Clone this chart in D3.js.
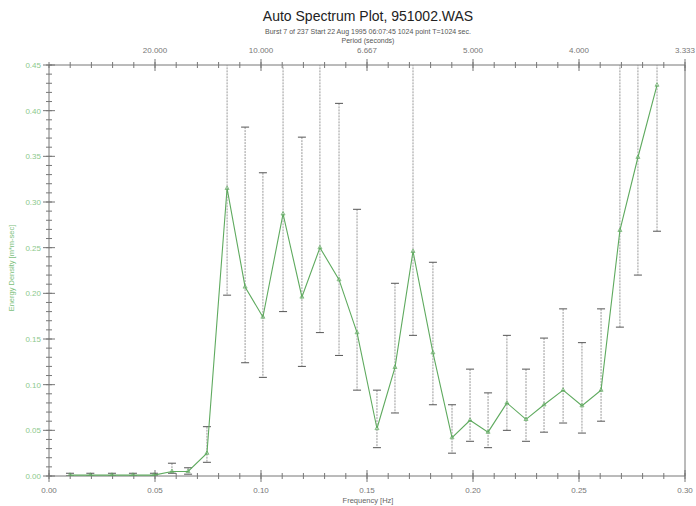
<!DOCTYPE html>
<html><head><meta charset="utf-8">
<script src="https://cdn.jsdelivr.net/npm/d3@7"></script>
<style>body{margin:0;background:#fff}svg{display:block;font-family:"Liberation Sans",Arial,sans-serif}</style>
</head><body><svg id="c" width="696" height="506"></svg>
<script>
const freq = [0.0099,0.0195,0.0297,0.0396,0.0495,0.058,0.0656,0.0745,0.084,0.0925,0.1009,0.1104,0.1193,0.1278,0.1368,0.1453,0.1547,0.1632,0.1717,0.1811,0.1901,0.1986,0.2071,0.216,0.225,0.2335,0.2425,0.2514,0.2604,0.2693,0.2778,0.2868];
const energy = [0.001,0.001,0.001,0.001,0.001,0.005,0.005,0.025,0.315,0.207,0.174,0.287,0.196,0.250,0.215,0.157,0.052,0.119,0.246,0.135,0.042,0.061,0.048,0.080,0.062,0.078,0.094,0.077,0.094,0.269,0.349,0.428];
const upper = [0.003,0.003,0.003,0.003,0.003,0.014,0.009,0.054,0.5,0.382,0.332,0.5,0.371,0.5,0.408,0.292,0.094,0.211,0.5,0.234,0.078,0.117,0.091,0.154,0.117,0.151,0.183,0.146,0.183,0.5,0.5,0.5];
const lower = [0,0,0,0,0,0.003,0.002,0.015,0.198,0.124,0.108,0.180,0.120,0.157,0.132,0.094,0.031,0.069,0.154,0.078,0.025,0.038,0.031,0.050,0.038,0.048,0.058,0.047,0.060,0.163,0.220,0.268];
const xTicks = [0,0.05,0.10,0.15,0.20,0.25,0.30];
const periodTicks = [0.05,0.10,0.15,0.20,0.25,0.30];
const yTicks = [0,0.05,0.10,0.15,0.20,0.25,0.30,0.35,0.40,0.45];

const svg = d3.select("#c");
const x = d3.scaleLinear().domain([0,0.30]).range([49,685]);
const y = d3.scaleLinear().domain([0,0.45]).range([476,65]);
const data = freq.map((f,i)=>({f,v:energy[i],hi:upper[i],lo:lower[i]}));

svg.append("defs").append("clipPath").attr("id","clip").append("rect")
  .attr("x",49).attr("y",65).attr("width",636).attr("height",411);

// titles
svg.append("text").attr("x",368).attr("y",21).attr("text-anchor","middle").attr("font-size",14).attr("fill","#222").text("Auto Spectrum Plot, 951002.WAS");
svg.append("text").attr("x",368).attr("y",34).attr("text-anchor","middle").attr("font-size",7).attr("fill","#555").text("Burst 7 of 237 Start 22 Aug 1995 06:07:45 1024 point T=1024 sec.");
svg.append("text").attr("x",368).attr("y",43).attr("text-anchor","middle").attr("font-size",7).attr("fill","#555").text("Period (seconds)");

const axColor="#777";
svg.append("line").attr("x1",49).attr("x2",685).attr("y1",65).attr("y2",65).attr("stroke",axColor);
svg.append("line").attr("x1",49).attr("x2",685).attr("y1",476).attr("y2",476).attr("stroke",axColor);
svg.append("line").attr("x1",49).attr("x2",49).attr("y1",65).attr("y2",476).attr("stroke",axColor);
svg.append("line").attr("x1",685).attr("x2",685).attr("y1",65).attr("y2",476).attr("stroke",axColor);

// bottom axis
const minorX = d3.range(0,31).map(i=>i/100);
const bx = svg.append("g");
bx.selectAll("line.mn").data(minorX).join("line").attr("x1",d=>x(d)).attr("x2",d=>x(d)).attr("y1",473).attr("y2",479).attr("stroke",axColor);
bx.selectAll("line.mj").data(xTicks).join("line").attr("x1",d=>x(d)).attr("x2",d=>x(d)).attr("y1",470).attr("y2",482).attr("stroke",axColor);
bx.selectAll("text").data(xTicks).join("text").attr("x",d=>x(d)).attr("y",493).attr("text-anchor","middle").attr("font-size",8).attr("fill","#777").text(d=>d3.format(".2f")(d));
svg.append("text").attr("x",368).attr("y",503).attr("text-anchor","middle").attr("font-size",7.5).attr("fill","#666").text("Frequency [Hz]");

// top axis (period)
const tx = svg.append("g");
tx.selectAll("line.mn").data(minorX).join("line").attr("x1",d=>x(d)).attr("x2",d=>x(d)).attr("y1",62).attr("y2",68).attr("stroke",axColor);
tx.selectAll("line.mj").data(periodTicks).join("line").attr("x1",d=>x(d)).attr("x2",d=>x(d)).attr("y1",59).attr("y2",71).attr("stroke",axColor);
tx.selectAll("text").data(periodTicks).join("text").attr("x",d=>x(d)).attr("y",53).attr("text-anchor","middle").attr("font-size",8).attr("fill","#777").text(d=>d3.format(".3f")(1/d));

// left axis
const minorY = d3.range(0,46).map(i=>i/100);
const ly = svg.append("g");
ly.selectAll("line.mn").data(minorY).join("line").attr("x1",46).attr("x2",52).attr("y1",d=>y(d)).attr("y2",d=>y(d)).attr("stroke",axColor);
ly.selectAll("line.mj").data(yTicks).join("line").attr("x1",43).attr("x2",55).attr("y1",d=>y(d)).attr("y2",d=>y(d)).attr("stroke",axColor);
ly.selectAll("text").data(yTicks).join("text").attr("x",41).attr("y",d=>y(d)+3).attr("text-anchor","end").attr("font-size",8).attr("fill","#8cc98c").text(d=>d3.format(".2f")(d));
svg.append("text").attr("transform","translate(14,268) rotate(-90)").attr("text-anchor","middle").attr("font-size",7.5).attr("fill","#7cbf7c").text("Energy Density [m*m-sec]");

// error bars
const g = svg.append("g").attr("clip-path","url(#clip)");
g.selectAll("line.eb").data(data).join("line").attr("x1",d=>x(d.f)).attr("x2",d=>x(d.f)).attr("y1",d=>y(d.hi)).attr("y2",d=>y(d.lo))
  .attr("stroke","#999").attr("stroke-width",1).attr("stroke-dasharray","2,1");
g.selectAll("line.cu").data(data.filter(d=>d.hi<0.45)).join("line").attr("x1",d=>x(d.f)-4).attr("x2",d=>x(d.f)+4).attr("y1",d=>y(d.hi)).attr("y2",d=>y(d.hi)).attr("stroke","#555");
g.selectAll("line.cl").data(data).join("line").attr("x1",d=>x(d.f)-4).attr("x2",d=>x(d.f)+4).attr("y1",d=>y(d.lo)).attr("y2",d=>y(d.lo)).attr("stroke","#555");

// line
g.append("path").datum(data).attr("fill","none").attr("stroke","#5faa5f").attr("stroke-width",1.1)
  .attr("d",d3.line().x(d=>x(d.f)).y(d=>y(d.v)));
g.selectAll("path.m").data(data).join("path").attr("transform",d=>`translate(${x(d.f)},${y(d.v)})`)
  .attr("d",d3.symbol(d3.symbolTriangle,7)).attr("fill","none").attr("stroke","#5faa5f").attr("stroke-width",0.7);
</script></body></html>
